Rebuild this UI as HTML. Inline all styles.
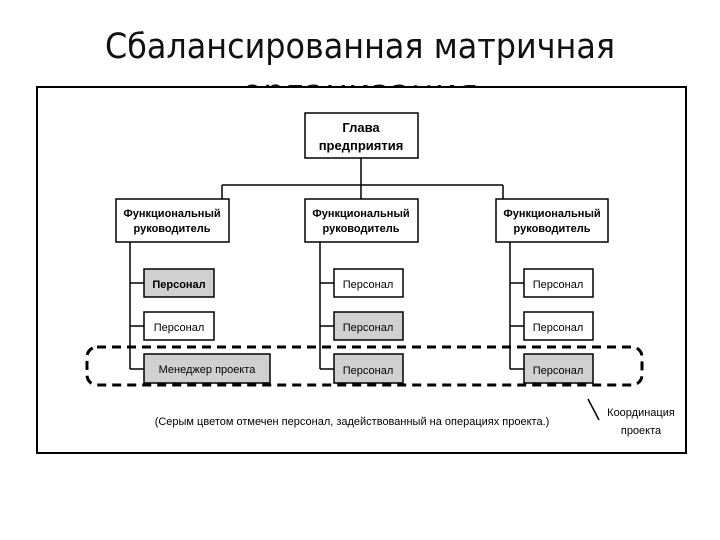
<!DOCTYPE html>
<html><head><meta charset="utf-8"><style>
html,body{margin:0;padding:0;background:#fff;width:720px;height:540px;overflow:hidden}
</style></head><body>
<svg width="720" height="540" viewBox="0 0 720 540" xmlns="http://www.w3.org/2000/svg" font-family="Liberation Sans, sans-serif">
<text x="360" y="58" text-anchor="middle" font-size="35" fill="#111" font-family="DejaVu Sans, Liberation Sans, sans-serif" textLength="510" lengthAdjust="spacingAndGlyphs">Сбалансированная матричная</text>
<text x="360" y="104" text-anchor="middle" font-size="35" fill="#111" font-family="DejaVu Sans, Liberation Sans, sans-serif">организация</text>
<rect x="37" y="87" width="649" height="366" fill="#fff" stroke="#000" stroke-width="2"/>
<g stroke="#000" stroke-width="1.5" fill="none">
<line x1="361" y1="158" x2="361" y2="199"/>
<line x1="222" y1="185" x2="503" y2="185"/>
<line x1="222" y1="185" x2="222" y2="199"/>
<line x1="503" y1="185" x2="503" y2="199"/>
<line x1="130" y1="242" x2="130" y2="369"/><line x1="130" y1="283" x2="144" y2="283"/><line x1="130" y1="326" x2="144" y2="326"/><line x1="130" y1="369" x2="144" y2="369"/>
<line x1="320" y1="242" x2="320" y2="369"/><line x1="320" y1="283" x2="334" y2="283"/><line x1="320" y1="326" x2="334" y2="326"/><line x1="320" y1="369" x2="334" y2="369"/>
<line x1="510" y1="242" x2="510" y2="369"/><line x1="510" y1="283" x2="524" y2="283"/><line x1="510" y1="326" x2="524" y2="326"/><line x1="510" y1="369" x2="524" y2="369"/>
</g>
<g stroke="#000" stroke-width="1.5">
<rect x="305" y="113" width="113" height="45" fill="#fff"/>
<rect x="116" y="199" width="113" height="43" fill="#fff"/>
<rect x="305" y="199" width="113" height="43" fill="#fff"/>
<rect x="496" y="199" width="112" height="43" fill="#fff"/>
<rect x="144" y="269" width="70" height="28" fill="#d0d0d0"/>
<rect x="144" y="312" width="70" height="28" fill="#fff"/>
<rect x="144" y="354" width="126" height="29" fill="#d0d0d0"/>
<rect x="334" y="269" width="69" height="28" fill="#fff"/>
<rect x="334" y="312" width="69" height="28" fill="#d0d0d0"/>
<rect x="334" y="354" width="69" height="29" fill="#d0d0d0"/>
<rect x="524" y="269" width="69" height="28" fill="#fff"/>
<rect x="524" y="312" width="69" height="28" fill="#fff"/>
<rect x="524" y="354" width="69" height="29" fill="#d0d0d0"/>
</g>
<rect x="87" y="347" width="555" height="38" rx="10" fill="none" stroke="#000" stroke-width="3" stroke-dasharray="9,6"/>
<line x1="588" y1="399" x2="599" y2="420" stroke="#000" stroke-width="1.5"/>
<g font-size="11" text-anchor="middle" fill="#000">
<text x="361" y="132" font-size="13" font-weight="bold">Глава</text>
<text x="361" y="150" font-size="13" font-weight="bold">предприятия</text>
<text x="172" y="217" font-weight="bold">Функциональный</text><text x="172" y="232" font-weight="bold">руководитель</text>
<text x="361" y="217" font-weight="bold">Функциональный</text><text x="361" y="232" font-weight="bold">руководитель</text>
<text x="552" y="217" font-weight="bold">Функциональный</text><text x="552" y="232" font-weight="bold">руководитель</text>
<text x="179" y="288" font-weight="bold">Персонал</text>
<text x="179" y="331">Персонал</text>
<text x="207" y="373">Менеджер проекта</text>
<text x="368" y="288">Персонал</text>
<text x="368" y="331">Персонал</text>
<text x="368" y="374">Персонал</text>
<text x="558" y="288">Персонал</text>
<text x="558" y="331">Персонал</text>
<text x="558" y="374">Персонал</text>
<text x="352" y="425">(Серым цветом отмечен персонал, задействованный на операциях проекта.)</text>
<text x="641" y="416">Координация</text>
<text x="641" y="434">проекта</text>
</g>
</svg>
</body></html>
